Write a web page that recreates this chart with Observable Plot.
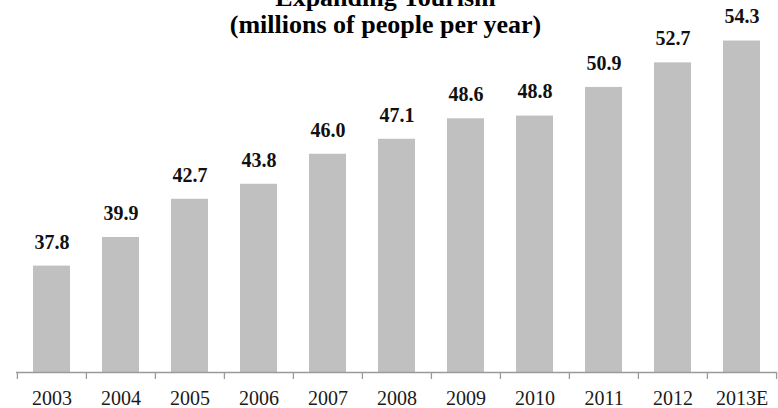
<!DOCTYPE html>
<html>
<head>
<meta charset="utf-8">
<script src="https://cdn.jsdelivr.net/npm/d3@7"></script>
<script src="https://cdn.jsdelivr.net/npm/@observablehq/plot@0.6"></script>
<style>
  html, body { margin: 0; padding: 0; background: #fff; }
  svg { display: block; }
</style>
</head>
<body>
<div id="chart"></div>
<script>
const titleLines = ["Expanding Tourism", "(millions of people per year)"];
const years = ["2003", "2004", "2005", "2006", "2007", "2008", "2009", "2010", "2011", "2012", "2013E"];
const visitors = [37.8, 39.9, 42.7, 43.8, 46.0, 47.1, 48.6, 48.8, 50.9, 52.7, 54.3];
const yBase = 30;
const yTop = 55;

const data = years.map((year, i) => ({year, value: visitors[i]}));

const W = 778, H = 408;
const mL = 16, mR = 1, mB = 36;
const step = (W - mL - mR) / years.length;
const font = "'Liberation Serif', 'Times New Roman', serif";

const chart = Plot.plot({
  width: W,
  height: H,
  marginLeft: mL,
  marginRight: mR,
  marginTop: 0,
  marginBottom: mB,
  style: {fontFamily: font, background: "#fff"},
  x: {domain: years, paddingInner: 0.46, paddingOuter: 0.23, axis: null},
  y: {domain: [yBase, yTop], range: [H - mB, H - mB - (yTop - yBase) * 13.64], axis: null},
  marks: [
    Plot.barY(data, {x: "year", y1: yBase, y2: "value", fill: "#c0c0c0"}),
    Plot.ruleY([yBase], {stroke: "#9a9a9a", strokeWidth: 1.3}),
    Plot.axisX({tickSize: 7, text: null, label: null, dx: -step / 2, stroke: "#9a9a9a", strokeWidth: 1.3}),
    Plot.axisX({ticks: [years[years.length - 1]], tickSize: 7, text: null, label: null, dx: step / 2, stroke: "#9a9a9a", strokeWidth: 1.3}),
    Plot.axisX({tickSize: 0, tickPadding: 18, label: null, fontSize: 20, fill: "#1a1a1a", fontFamily: font}),
    Plot.text(data, {x: "year", y: "value", text: d => d.value.toFixed(1), dy: -24,
      fontSize: 20, fontWeight: "bold", fill: "#111", fontFamily: font}),
    Plot.text([titleLines[0]], {frameAnchor: "top", lineAnchor: "top", dy: -13, dx: -11.5,
      fontSize: 26, fontWeight: "bold", fill: "#000", fontFamily: font}),
    Plot.text([titleLines[1]], {frameAnchor: "top", lineAnchor: "top", dy: 14.5, dx: -11.5,
      fontSize: 26, fontWeight: "bold", fill: "#000", fontFamily: font})
  ]
});
document.getElementById("chart").append(chart);
</script>
</body>
</html>
